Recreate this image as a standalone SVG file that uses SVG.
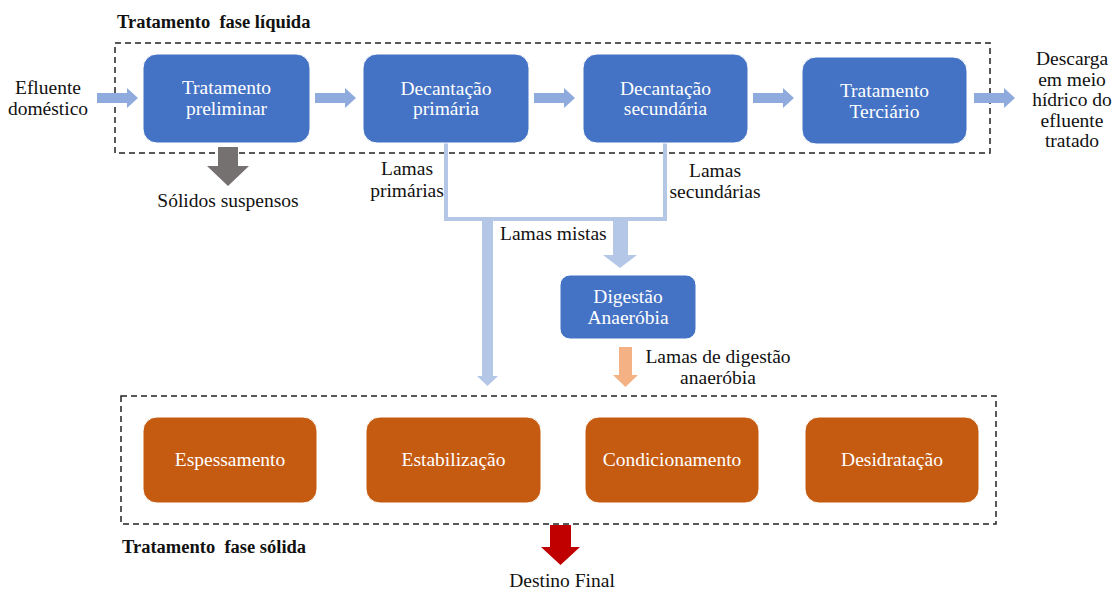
<svg xmlns="http://www.w3.org/2000/svg" width="1119" height="590" viewBox="0 0 1119 590">
<defs>
<style>
text{font-family:"Liberation Serif","Times New Roman",serif;font-size:19.5px;fill:#111;}
.w{fill:#fff;text-anchor:middle;}
.c{text-anchor:middle;}
.t{font-weight:bold;font-size:18.5px;white-space:pre;}
.blue{fill:#4472C4;stroke:#fff;stroke-width:1;}
.orange{fill:#C55A11;stroke:#fff;stroke-width:1;}
.dash{fill:none;stroke:#222;stroke-width:1.5;stroke-dasharray:6 4;}
.ha{fill:#8FAADC;}
</style>
<path id="harrow" d="M0,-5 H30 V-10 L41,0 L30,10 V5 H0 Z"/>
</defs>
<rect width="1119" height="590" fill="#fff"/>

<g id="frames">
<rect class="dash" x="115" y="43" width="875" height="110"/>
<rect class="dash" x="121" y="396" width="875" height="128"/>
<text class="t" x="117" y="28" xml:space="preserve">Tratamento  fase líquida</text>
<text class="t" x="122" y="553" xml:space="preserve">Tratamento  fase sólida</text>
</g>

<g id="connectors">
<use href="#harrow" class="ha" x="97" y="98"/>
<use href="#harrow" class="ha" x="315" y="98"/>
<use href="#harrow" class="ha" x="534" y="98"/>
<use href="#harrow" class="ha" x="753" y="98"/>
<use href="#harrow" class="ha" x="974" y="98"/>
<path d="M218,147 H238 V166 H249 L228,186 L207,166 H218 Z" fill="#767171"/>
<polyline points="446,143 446,219 665,219 665,143" fill="none" stroke="#B4C7E7" stroke-width="4"/>
<path d="M482,221 H493 V376 H498 L487.5,386 L477,376 H482 Z" fill="#B4C7E7"/>
<path d="M613,221 H628 V255 H637 L620,268 L603,255 H613 Z" fill="#B4C7E7"/>
<path d="M619,347 H632 V375 H638 L625.5,387 L613,375 H619 Z" fill="#F4B183"/>
<path d="M550,525 H571 V547 H580 L560.5,565 L541,547 H550 Z" fill="#C00000"/>
</g>

<g id="labels">
<text class="c" x="48" y="94">Efluente</text>
<text class="c" x="48" y="115">doméstico</text>
<text class="c" x="1072" y="65">Descarga</text>
<text class="c" x="1072" y="85.5">em meio</text>
<text class="c" x="1072" y="106">hídrico do</text>
<text class="c" x="1072" y="126.5">efluente</text>
<text class="c" x="1072" y="147">tratado</text>
<text class="c" x="228" y="207">Sólidos suspensos</text>
<text class="c" x="407" y="175">Lamas</text>
<text class="c" x="407" y="197">primárias</text>
<text class="c" x="715" y="177">Lamas</text>
<text class="c" x="715" y="198">secundárias</text>
<text x="500" y="240">Lamas mistas</text>
<text class="c" x="718" y="363">Lamas de digestão</text>
<text class="c" x="718" y="384">anaeróbia</text>
<text class="c" x="562" y="587">Destino Final</text>
</g>

<g id="n-preliminar">
<rect class="blue" x="143" y="54" width="167" height="89" rx="14"/>
<text class="w" x="226.5" y="94">Tratamento</text>
<text class="w" x="226.5" y="115">preliminar</text>
</g>
<g id="n-primaria">
<rect class="blue" x="363" y="54" width="166" height="89" rx="14"/>
<text class="w" x="446" y="95">Decantação</text>
<text class="w" x="446" y="115">primária</text>
</g>
<g id="n-secundaria">
<rect class="blue" x="583" y="54" width="165" height="89" rx="14"/>
<text class="w" x="665.5" y="95">Decantação</text>
<text class="w" x="665.5" y="115">secundária</text>
</g>
<g id="n-terciario">
<rect class="blue" x="802" y="57" width="165" height="87" rx="14"/>
<text class="w" x="884.5" y="97">Tratamento</text>
<text class="w" x="884.5" y="118">Terciário</text>
</g>
<g id="n-digestao">
<rect class="blue" x="560" y="275" width="136" height="64" rx="10"/>
<text class="w" x="628" y="303">Digestão</text>
<text class="w" x="628" y="324">Anaeróbia</text>
</g>

<g id="n-espessamento">
<rect class="orange" x="143" y="417" width="174" height="86" rx="14"/>
<text class="w" x="230" y="466">Espessamento</text>
</g>
<g id="n-estabilizacao">
<rect class="orange" x="366" y="417" width="175" height="86" rx="14"/>
<text class="w" x="453.5" y="466">Estabilização</text>
</g>
<g id="n-condicionamento">
<rect class="orange" x="585" y="417" width="174" height="86" rx="14"/>
<text class="w" x="672" y="466">Condicionamento</text>
</g>
<g id="n-desidratacao">
<rect class="orange" x="805" y="417" width="174" height="86" rx="14"/>
<text class="w" x="892" y="466">Desidratação</text>
</g>
</svg>
